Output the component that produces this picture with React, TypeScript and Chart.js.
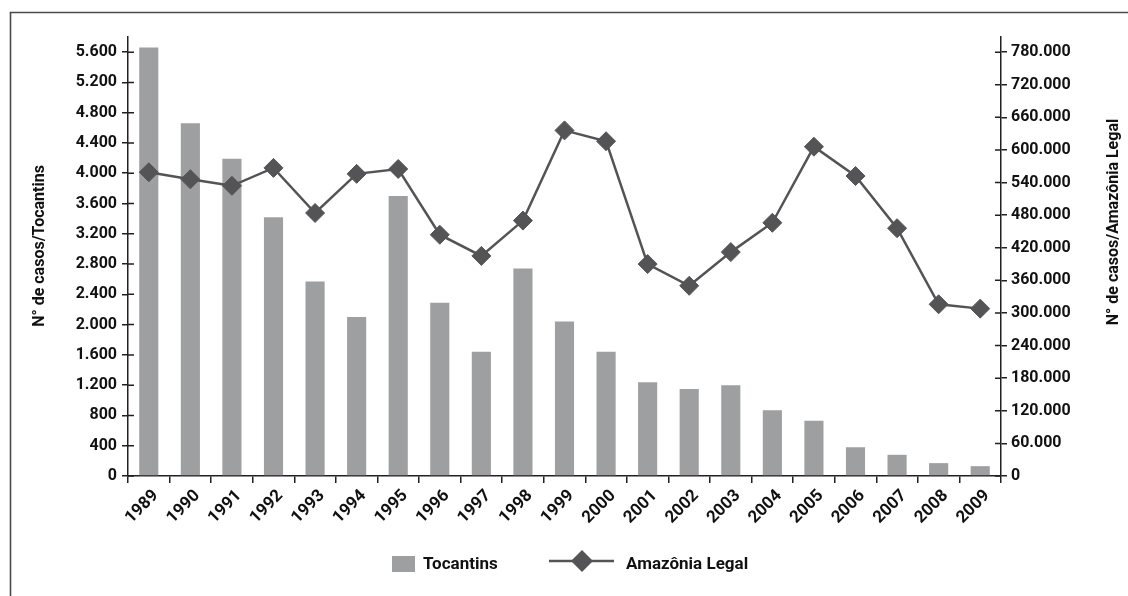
import { useEffect, useRef } from 'react';
import { Chart, registerables } from 'chart.js';

Chart.register(...registerables);

// Malaria cases per year
const YEARS = ['1989', '1990', '1991', '1992', '1993', '1994', '1995', '1996', '1997', '1998', '1999',
  '2000', '2001', '2002', '2003', '2004', '2005', '2006', '2007', '2008', '2009'];
const TOCANTINS = [5660, 4660, 4190, 3420, 2570, 2100, 3700, 2290, 1640, 2740, 2040,
  1640, 1240, 1150, 1200, 870, 730, 380, 280, 170, 130];
const AMAZONIA_LEGAL = [559000, 546000, 534000, 567000, 484000, 556000, 565000, 444000, 405000, 470000, 636000,
  616000, 390000, 350000, 412000, 466000, 606000, 552000, 456000, 316000, 308000];

const LEFT_STEP = 400;
const LEFT_LAST_TICK = 5600;
const LEFT_MAX = 5800;
const RIGHT_STEP = 60000;
const RIGHT_LAST_TICK = 780000;
const RIGHT_MAX = (RIGHT_LAST_TICK * LEFT_MAX) / LEFT_LAST_TICK;

const LEFT_TITLE = 'N° de casos/Tocantins';
const RIGHT_TITLE = 'N° de casos/Amazônia Legal';
const SERIES_TOC = 'Tocantins';
const SERIES_AMZ = 'Amazônia Legal';

const FAMILY = "Roboto, 'Liberation Sans', sans-serif";
const BAR_COLOR = '#9e9fa1';
const LINE_COLOR = '#545456';
const AXIS_COLOR = '#231f20';
const FRAME_COLOR = '#4a4a4a';
const TEXT_COLOR = '#111111';

const W = 1128;
const H = 596;

const fmt = (v: number) => String(Math.round(v)).replace(/\B(?=(\d{3})+(?!\d))/g, '.');

const stepTicks = (step: number, last: number) => {
  const out: { value: number }[] = [];
  for (let v = 0; v <= last; v += step) out.push({ value: v });
  return out;
};

// Frame, crossing tick halves, axis titles and the legend
const decorPlugin = {
  id: 'decor',
  afterDraw(chart: any) {
    const ctx = chart.ctx as CanvasRenderingContext2D;
    const yL = chart.scales.y;
    const yR = chart.scales.y1;
    ctx.save();

    // outer frame (open at right and bottom)
    ctx.strokeStyle = FRAME_COLOR;
    ctx.lineWidth = 1.6;
    ctx.beginPath();
    ctx.moveTo(10.5, chart.height);
    ctx.lineTo(10.5, 12.5);
    ctx.lineTo(chart.width, 12.5);
    ctx.stroke();

    // inner halves of the y tick marks
    ctx.strokeStyle = AXIS_COLOR;
    ctx.lineWidth = 1.5;
    ctx.beginPath();
    yL.ticks.forEach((t: any) => {
      const p = yL.getPixelForValue(t.value);
      ctx.moveTo(yL.right, p);
      ctx.lineTo(yL.right + 6, p);
    });
    yR.ticks.forEach((t: any) => {
      const p = yR.getPixelForValue(t.value);
      ctx.moveTo(yR.left - 6, p);
      ctx.lineTo(yR.left, p);
    });
    ctx.stroke();

    // axis titles, both reading bottom to top
    ctx.fillStyle = TEXT_COLOR;
    ctx.font = `bold 16px ${FAMILY}`;
    ctx.textAlign = 'center';
    ctx.textBaseline = 'middle';
    const drawRotated = (text: string, x: number, y: number) => {
      ctx.save();
      ctx.translate(x, y);
      ctx.rotate(-Math.PI / 2);
      ctx.fillText(text, 0, 0);
      ctx.restore();
    };
    drawRotated(LEFT_TITLE, 40, 246);
    drawRotated(RIGHT_TITLE, 1114, 222);

    // legend
    const barDs = chart.data.datasets[1];
    const lineDs = chart.data.datasets[0];
    ctx.fillStyle = barDs.backgroundColor;
    ctx.fillRect(392, 556, 23, 16);
    ctx.fillStyle = TEXT_COLOR;
    ctx.font = `bold 17px ${FAMILY}`;
    ctx.textAlign = 'left';
    ctx.textBaseline = 'middle';
    ctx.fillText(barDs.label, 423, 565);

    ctx.strokeStyle = lineDs.borderColor;
    ctx.lineWidth = 2.5;
    ctx.beginPath();
    ctx.moveTo(549, 561);
    ctx.lineTo(614, 561);
    ctx.stroke();
    ctx.fillStyle = lineDs.pointBackgroundColor;
    const r = 11;
    ctx.beginPath();
    ctx.moveTo(582 - r, 561);
    ctx.lineTo(582, 561 - r);
    ctx.lineTo(582 + r, 561);
    ctx.lineTo(582, 561 + r);
    ctx.closePath();
    ctx.fill();
    ctx.fillStyle = TEXT_COLOR;
    ctx.fillText(lineDs.label, 626, 565);

    ctx.restore();
  },
};

export default function App() {
  const canvasRef = useRef<HTMLCanvasElement | null>(null);

  useEffect(() => {
    document.body.style.margin = '0';
    const canvas = canvasRef.current;
    if (!canvas) return;
    const tickFont = { family: FAMILY, size: 16, weight: 'bold' as const };
    const xTickFont = { family: FAMILY, size: 17, weight: 'bold' as const };

    const chart = new Chart(canvas, {
      type: 'bar',
      data: {
        labels: YEARS,
        datasets: [
          {
            type: 'line',
            label: SERIES_AMZ,
            data: AMAZONIA_LEGAL,
            yAxisID: 'y1',
            order: 0,
            borderColor: LINE_COLOR,
            borderWidth: 2.5,
            pointStyle: 'rectRot',
            pointRadius: 9.5,
            pointBorderWidth: 1,
            pointBackgroundColor: LINE_COLOR,
            pointBorderColor: LINE_COLOR,
            tension: 0,
          },
          {
            type: 'bar',
            label: SERIES_TOC,
            data: TOCANTINS,
            yAxisID: 'y',
            order: 1,
            backgroundColor: BAR_COLOR,
            barPercentage: 0.46,
            categoryPercentage: 1,
          },
        ] as any,
      },
      options: {
        responsive: false,
        animation: false,
        devicePixelRatio: 1,
        layout: { padding: { top: 37, left: 0, right: 0, bottom: 0 } },
        plugins: { legend: { display: false }, tooltip: { enabled: false }, title: { display: false } },
        scales: {
          x: {
            type: 'category',
            offset: true,
            grid: {
              display: true,
              drawOnChartArea: false,
              drawTicks: true,
              tickLength: 7,
              offset: true,
              color: AXIS_COLOR,
              lineWidth: 1.5,
            },
            border: { display: true, color: AXIS_COLOR, width: 1.5 },
            ticks: {
              minRotation: 45,
              maxRotation: 45,
              autoSkip: false,
              padding: 3,
              labelOffset: 7,
              color: TEXT_COLOR,
              font: xTickFont,
            },
            afterFit: (scale: any) => {
              scale.height = 120;
            },
          },
          y: {
            position: 'left',
            min: 0,
            max: LEFT_MAX,
            grid: {
              display: true,
              drawOnChartArea: false,
              drawTicks: true,
              tickLength: 6,
              color: AXIS_COLOR,
              lineWidth: 1.5,
            },
            border: { display: true, color: AXIS_COLOR, width: 1.5 },
            ticks: {
              padding: 5,
              color: TEXT_COLOR,
              font: tickFont,
              callback: (v: any) => fmt(Number(v)),
            },
            afterBuildTicks: (scale: any) => {
              scale.ticks = stepTicks(LEFT_STEP, LEFT_LAST_TICK);
            },
            afterFit: (scale: any) => {
              scale.width = 128;
            },
          },
          y1: {
            position: 'right',
            min: 0,
            max: RIGHT_MAX,
            grid: {
              display: true,
              drawOnChartArea: false,
              drawTicks: true,
              tickLength: 6,
              color: AXIS_COLOR,
              lineWidth: 1.5,
            },
            border: { display: true, color: AXIS_COLOR, width: 1.5 },
            ticks: {
              padding: 4,
              color: TEXT_COLOR,
              font: tickFont,
              callback: (v: any) => fmt(Number(v)),
            },
            afterBuildTicks: (scale: any) => {
              scale.ticks = stepTicks(RIGHT_STEP, RIGHT_LAST_TICK);
            },
            afterFit: (scale: any) => {
              scale.width = W - 1001;
            },
          },
        },
      } as any,
      plugins: [decorPlugin],
    });

    return () => chart.destroy();
  }, []);

  return (
    <div style={{ position: 'absolute', left: 0, top: 0, width: W, height: H, background: '#fff' }}>
      <canvas ref={canvasRef} width={W} height={H} style={{ display: 'block', width: W, height: H }} />
    </div>
  );
}
